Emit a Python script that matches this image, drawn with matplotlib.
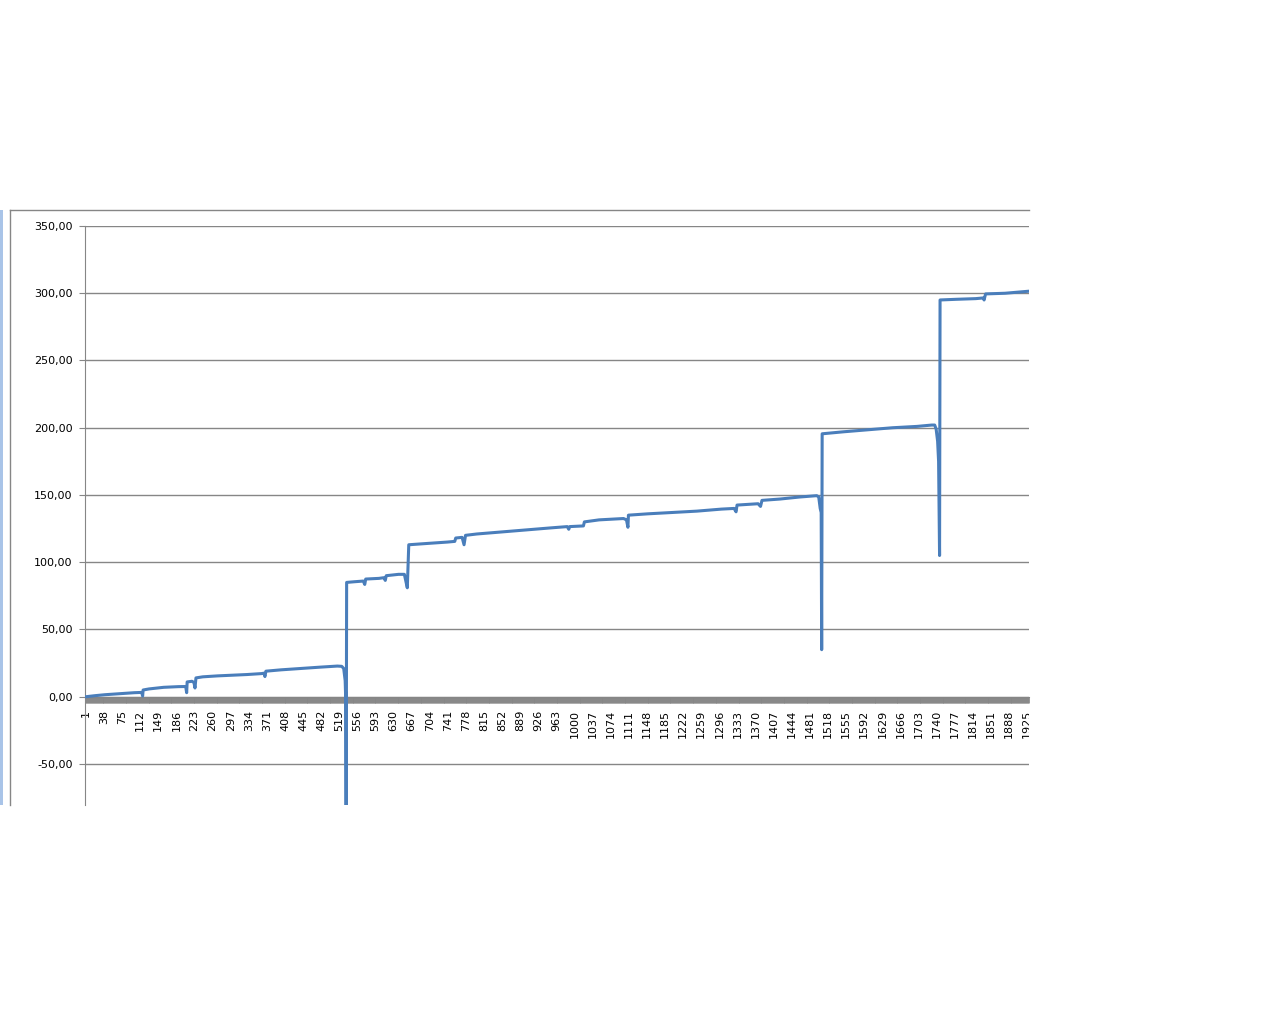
import matplotlib
matplotlib.use("Agg")
import matplotlib.pyplot as plt
from matplotlib.ticker import FixedLocator, FuncFormatter
from matplotlib.transforms import Bbox, TransformedBbox
from matplotlib.patches import Rectangle
from matplotlib.lines import Line2D

# points: category index and value
idx = [1, 20, 40, 60, 80, 100, 115, 117, 118, 130, 160, 190, 205, 207, 208,
       218, 222, 224, 226, 240, 270, 300, 330, 360, 365, 367, 369, 400, 440,
       480, 515, 524, 528, 531, 532, 533, 534, 550, 568, 571, 573, 600, 610, 613,
       615, 640, 652, 655, 658, 661, 700, 740, 755, 757, 770, 774, 777, 800,
       850, 900, 950, 985, 988, 990, 1018, 1020, 1050, 1100, 1106, 1109, 1110,
       1150, 1200, 1250, 1300, 1326, 1330, 1332, 1375, 1380, 1383, 1420, 1460,
       1495, 1499, 1502, 1504, 1505, 1506, 1550, 1600, 1650, 1700, 1730, 1736,
       1739, 1742, 1744, 1746, 1747, 1780, 1820, 1835, 1837, 1840, 1880, 1928]
vals = [0.0, 0.8, 1.5, 2.0, 2.5, 3.0, 3.2, 0.5, 5.0, 5.8, 7.0, 7.5, 7.6, 3.0, 11.0,
        11.5, 10.5, 6.5, 14.0, 14.8, 15.5, 16.0, 16.5, 17.2, 17.5, 15.0, 19.0, 20.0, 21.0,
        22.0, 22.8, 22.6, 21.0, 12.0, 0.0, -100.0, 85.0, 85.5, 86.0, 83.5, 87.5, 88.0, 88.5, 86.5,
        90.0, 91.0, 91.0, 86.0, 81.0, 113.0, 114.0, 115.0, 115.5, 118.0, 118.5, 113.0, 120.0, 121.0,
        122.5, 124.0, 125.5, 126.5, 124.5, 126.5, 127.0, 130.0, 131.5, 132.5, 131.5, 126.0, 135.0,
        136.0, 137.0, 138.0, 139.5, 140.0, 137.5, 142.5, 143.5, 141.5, 146.0, 147.0, 148.5,
        149.5, 148.5, 140.0, 137.0, 35.0, 195.5, 197.0, 198.5, 200.0, 201.0, 202.0, 202.0,
        199.0, 190.0, 175.0, 105.0, 295.0, 295.5, 296.0, 296.5, 295.0, 299.5, 300.0, 301.5]

n_cat = 1928
xlabels = list(range(1, n_cat + 1, 37))
yticks = [-50, 0, 50, 100, 150, 200, 250, 300, 350]

W, H = 1280, 1024
fig = plt.figure(figsize=(12.8, 10.24), dpi=100)
ax = fig.add_axes([85 / W, 1 - 805 / H, (1029 - 85) / W, (805 - 226) / H])

grid_c = "#868686"
ax.plot(idx, vals, color="#4A7EBB", lw=2.2, solid_joinstyle="round", zorder=5)

ax.set_xlim(-0.8, 1928.8)
ax.set_ylim(-80.5, 350)

ax.set_yticks(yticks)
ax.yaxis.set_major_formatter(FuncFormatter(lambda v, p: f"{v:.2f}".replace(".", ",")))
ax.grid(axis="y", color=grid_c, lw=1)
ax.set_axisbelow(True)

for s in ["top", "right"]:
    ax.spines[s].set_visible(False)
ax.spines["left"].set_color(grid_c)
ax.spines["bottom"].set_position(("data", 0))
ax.spines["bottom"].set_color(grid_c)

ax.xaxis.set_major_locator(FixedLocator(xlabels))
ax.xaxis.set_minor_locator(FixedLocator(range(1, n_cat + 1)))
ax.tick_params(axis="x", which="both", direction="out", length=4.2, width=0.6,
               color=grid_c, labelsize=8, rotation=90, pad=5)
ax.tick_params(axis="y", direction="out", length=4, width=0.8, color=grid_c,
               labelsize=8, pad=5)

clip = TransformedBbox(Bbox([[0, 0], [1029 / W, 1]]), fig.transFigure)
for lab in ax.get_xticklabels():
    lab.set_clip_on(True)
    lab.set_clip_box(clip)

# chart area frame and the selection strip at the left edge
fig.add_artist(Line2D([10 / W, 1029 / W], [1 - 210 / H, 1 - 210 / H], color=grid_c, lw=1))
fig.add_artist(Line2D([10 / W, 10 / W], [1 - 210 / H, 1 - 805 / H], color=grid_c, lw=1))
fig.add_artist(Rectangle((0, 1 - 805 / H), 3 / W, (805 - 210) / H,
                         transform=fig.transFigure, color="#A9C4E8", lw=0))

fig.savefig("out.png", dpi=100)
